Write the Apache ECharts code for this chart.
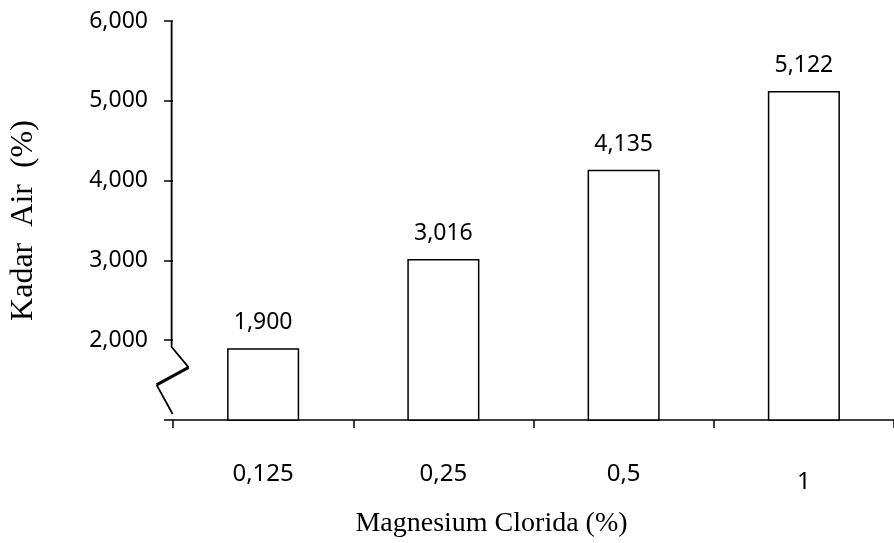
<!DOCTYPE html>
<html>
<head>
<meta charset="utf-8">
<script src="https://cdn.jsdelivr.net/npm/echarts@6/dist/echarts.min.js"></script>
<style>
html,body{margin:0;padding:0;background:#fff;}
#c{width:894px;height:543px;}
</style>
</head>
<body>
<div id="c"></div>
<script>
// Data
var categories = ['0,125', '0,25', '0,5', '1'];
var kadarAir = [1.900, 3.016, 4.135, 5.122];
var yTicks = [1, 2, 3, 4, 5, 6];
var xTitle = 'Magnesium Clorida (%)';
var yTitle = 'Kadar  Air  (%)';

function fmt(v) { return v.toFixed(3).replace('.', ','); }

var labelFont = 'Noto Sans';
var titleFont = 'Liberation Serif';

var chart = echarts.init(document.getElementById('c'), null, { renderer: 'canvas' });

var option = {
  animation: false,
  backgroundColor: '#ffffff',
  grid: { left: 172, right: -10, top: 21, bottom: 109, containLabel: false },
  xAxis: {
    type: 'category',
    data: categories,
    name: xTitle,
    nameLocation: 'middle',
    nameGap: 90,
    nameTextStyle: { fontFamily: titleFont, fontSize: 28, color: '#000', padding: [0, 84, 0, 0] },
    axisLine: { show: true, lineStyle: { color: '#000', width: 1.5 } },
    axisTick: { show: true, length: 8, lineStyle: { color: '#000', width: 1.5 } },
    axisLabel: {
      margin: 42,
      fontFamily: labelFont, fontSize: 24, color: '#000',
      formatter: function (v) { return v === '1' ? '{low|' + v + '}' : v; },
      rich: { low: { fontFamily: labelFont, fontSize: 24, color: '#000', padding: [8, 0, 0, 0] } }
    },
    splitLine: { show: false }
  },
  yAxis: {
    type: 'value',
    min: yTicks[0],
    max: yTicks[yTicks.length - 1],
    interval: 1,
    name: yTitle,
    nameLocation: 'middle',
    nameGap: 133,
    nameRotate: 90,
    nameTextStyle: { fontFamily: titleFont, fontSize: 32, color: '#000' },
    axisLine: { show: false },
    axisTick: { show: true, inside: false, length: 9, lineStyle: { color: '#000', width: 1.5 } },
    axisLabel: {
      margin: 25,
      fontFamily: labelFont, fontSize: 23, color: '#000',
      formatter: function (v) { return v === yTicks[0] ? '' : fmt(v); }
    },
    splitLine: { show: false }
  },
  series: [{
    type: 'bar',
    data: kadarAir,
    barWidth: '40%',
    itemStyle: { color: '#ffffff', borderColor: '#000', borderWidth: 1.5 },
    label: {
      show: true, position: 'top', distance: 14,
      fontFamily: labelFont, fontSize: 23, color: '#000',
      formatter: function (p) { return fmt(p.value); }
    }
  }]
};
chart.setOption(option);

// Y axis line with break (zigzag) drawn from axis coordinates
function px(v) { return chart.convertToPixel({ gridIndex: 0 }, [0, v]); }
var x0 = chart.convertToPixel({ xAxisIndex: 0 }, categories[0]) - 91.5;
var yTop = px(yTicks[yTicks.length - 1])[1];
var yB1 = px(1.915)[1];
var yB2 = px(1.66)[1];
var yB3 = px(1.44)[1];
var yB4 = px(1.075)[1];
chart.setOption({
  graphic: [
    { type: 'polyline', shape: { points: [[x0, yTop], [x0, yB1], [x0 + 17, yB2]] }, style: { stroke: '#000', lineWidth: 1.8, fill: null } },
    { type: 'line', shape: { x1: x0 + 17, y1: yB2, x2: x0 - 15, y2: yB3 }, style: { stroke: '#000', lineWidth: 3 } },
    { type: 'line', shape: { x1: x0 - 15, y1: yB3, x2: x0 + 1, y2: yB4 }, style: { stroke: '#000', lineWidth: 1.8 } }
  ]
});
</script>
</body>
</html>
